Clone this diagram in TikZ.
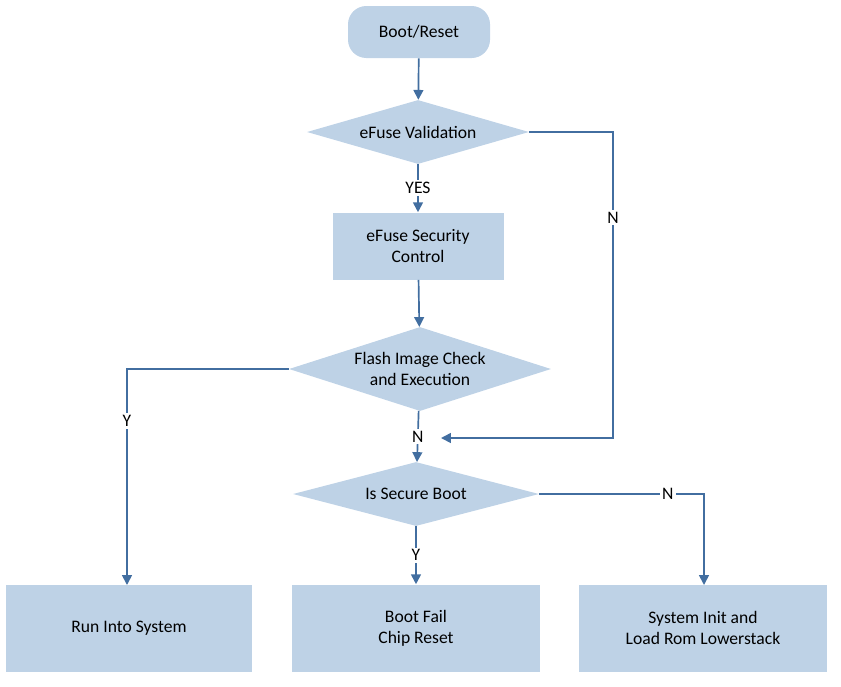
\documentclass[tikz,border=0pt]{standalone}
\usepackage{fontspec}
\setmainfont{Carlito}
\usetikzlibrary{arrows.meta, shapes.geometric}
\definecolor{boxfill}{RGB}{190,210,230}
\definecolor{linecol}{RGB}{66,110,160}
\tikzset{
    base/.style={fill=boxfill, draw=none, font=\fontsize{12.5}{15}\selectfont, align=center, inner sep=0pt},
    term/.style={base, rounded corners=13pt, minimum width=142*0.025cm, minimum height=52*0.025cm},
    proc/.style={base, minimum width=#1*0.025cm, minimum height=67*0.025cm},
    dec/.style={base, diamond, aspect=3.5, minimum width=#1*0.025cm},
    flow/.style={draw=linecol, line width=1.2pt, -{Triangle[length=7pt, width=7pt]}},
    lbl/.style={fill=white, inner sep=1.5pt, font=\fontsize{12.5}{15}\selectfont}
}

\begin{document}
\begin{tikzpicture}[x=0.025cm, y=-0.025cm]
\useasboundingbox (0,0) rectangle (841,686);

\node[term] (boot) at (419,32) {Boot/Reset};
\node[dec=222, minimum height=64*0.025cm, aspect=3.47] (efuse) at (418,132) {eFuse Validation};
\node[proc=171] (sec) at (418,246) {eFuse Security\\Control};
\node[dec=262, minimum height=84*0.025cm, aspect=3.12] (flash) at (420,369) {Flash Image Check\\and Execution};
\node[dec=246, minimum height=64*0.025cm, aspect=3.84] (secure) at (416,494) {Is Secure Boot};
\node[proc=246, minimum height=87*0.025cm] (run) at (129,628) {Run Into System};
\node[proc=248, minimum height=87*0.025cm] (fail) at (416,628) {Boot Fail\\Chip Reset};
\node[proc=248, minimum height=87*0.025cm] (init) at (703,628) {System Init and\\Load Rom Lowerstack};

\coordinate (merge) at (441,438);
\coordinate (runtop) at (127,585);
\coordinate (inittop) at (704,585);

% main column
\draw[flow] (boot) -- (efuse);
\draw[flow] (efuse) -- node[lbl]{YES} (sec);
\draw[flow] (sec) -- (flash);
\draw[flow] (flash) -- node[lbl]{N} (secure);
\draw[flow] (secure) -- node[lbl]{Y} (fail);

% side branches
\draw[flow] (flash.west) -| node[lbl, pos=0.62]{Y} (runtop);
\draw[flow] (efuse.east) -| node[lbl, pos=0.64]{N} (613,438) -- (merge);
\draw[flow] (secure.east) -| node[lbl, pos=0.39]{N} (inittop);

\end{tikzpicture}
\end{document}
